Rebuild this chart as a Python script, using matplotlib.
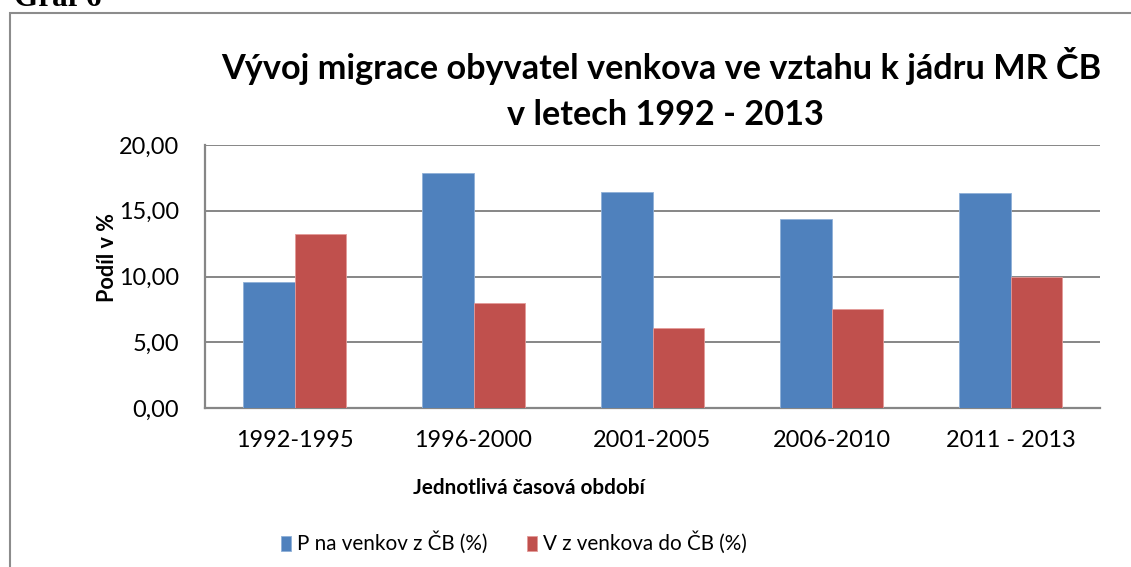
import matplotlib
matplotlib.use("Agg")
import matplotlib.pyplot as plt
from matplotlib.textpath import TextPath
from matplotlib.font_manager import FontProperties
from matplotlib.patches import Rectangle
import numpy as np

W, H, DPI = 1131, 567, 100

categories = ["1992-1995", "1996-2000", "2001-2005", "2006-2010", "2011 - 2013"]
series_names = ["P na venkov z ČB (%)", "V z venkova do ČB (%)"]
values_p = [9.55, 17.87, 16.43, 14.40, 16.35]
values_v = [13.25, 7.98, 6.08, 7.55, 9.94]
yticks = [0, 5, 10, 15, 20]
ytick_labels = ["0,00", "5,00", "10,00", "15,00", "20,00"]
title_line1 = "Vývoj migrace obyvatel venkova ve vztahu k jádru MR ČB"
title_line2 = "v letech 1992 - 2013"
xlabel = "Jednotlivá časová období"
ylabel = "Podíl v %"
heading = "Graf 6"

SANS = "Lato"
SERIF = "Liberation Serif"


def text_px(text, size_pt, family=SANS, weight="normal"):
    fp = FontProperties(family=family, weight=weight)
    w = TextPath((0, 0), text, size=100, prop=fp).get_extents().width
    return w * size_pt / 100 * DPI / 72


def fit_size(text, target_px, family=SANS, weight="normal"):
    """Font size in points so that text renders target_px wide."""
    return 100 * target_px / text_px(text, 100, family, weight)


def fx(x):
    return x / W


def fy(y):
    return 1 - y / H


fig = plt.figure(figsize=(W / DPI, H / DPI), dpi=DPI)
fig.patch.set_facecolor("white")

# chart border (outer frame)
fig.add_artist(Rectangle((fx(10), fy(700)), fx(1200), (700 - 13) / H,
                         transform=fig.transFigure, fill=False,
                         edgecolor="#8c8c8c", linewidth=1.5))

# heading above the frame (partly cut off, as in the source)
fig.text(fx(14), fy(6), heading, family=SERIF, weight="bold",
         fontsize=fit_size(heading, 85, SERIF, "bold"), ha="left", va="baseline")

ax = fig.add_axes([fx(205), fy(408), fx(1100) - fx(205), (408 - 145) / H])

blue = "#4F81BD"
red = "#C0504D"
x = np.arange(len(categories))
bw = 0.286
ax.bar(x - bw / 2, values_p, bw, color=blue, edgecolor="#8fb0d8", linewidth=0.6,
       label=series_names[0], zorder=3)
ax.bar(x + bw / 2, values_v, bw, color=red, edgecolor="#e39a98", linewidth=0.6,
       label=series_names[1], zorder=3)

ax.set_xlim(-0.5, len(categories) - 0.5)
ax.set_ylim(0, 20)
ax.set_yticks(yticks)
tick_fs = fit_size("1992-1995", 114)
ax.set_yticklabels(ytick_labels, family=SANS, fontsize=tick_fs)
ax.set_xticks(x)
ax.set_xticklabels(categories, family=SANS, fontsize=tick_fs)
ax.tick_params(axis="both", length=0, colors="black")
ax.tick_params(axis="y", pad=26 * 72 / DPI)
ax.tick_params(axis="x", pad=22 * 72 / DPI)

grid_c = "#868686"
ax.yaxis.grid(True, color=grid_c, linewidth=1.4, zorder=0)
ax.set_axisbelow(True)
for s in ["top", "right"]:
    ax.spines[s].set_visible(False)
for s in ["left", "bottom"]:
    ax.spines[s].set_color(grid_c)
    ax.spines[s].set_linewidth(1.6)

# titles
tfs = fit_size(title_line1, 878, SANS, "bold")
fig.text(fx(661), fy(79), title_line1, family=SANS, weight="bold", fontsize=tfs,
         ha="center", va="baseline")
fig.text(fx(665), fy(125), title_line2, family=SANS, weight="bold", fontsize=tfs,
         ha="center", va="baseline")

# axis labels
xl_fs = tick_fs * 0.88
fig.text(fx(529), fy(494), xlabel, family=SANS, weight="bold", fontsize=xl_fs,
         ha="center", va="baseline")
yl_fs = fit_size(ylabel, 86, SANS, "bold")
fig.text(fx(107), fy(258), ylabel, family=SANS, weight="bold", fontsize=yl_fs,
         ha="center", va="center", rotation=90)

# legend
leg_fs = tick_fs * 0.88
f_px = leg_fs * DPI / 72
w1 = text_px(series_names[0], leg_fs)
gap = max(524 - (297 + w1), 18)
leg = fig.legend(loc="center left", bbox_to_anchor=(fx(281), fy(543)), ncol=2,
                 frameon=False, prop=FontProperties(family=SANS, size=leg_fs),
                 handlelength=10 / f_px, handleheight=15 / f_px,
                 handletextpad=6 / f_px, columnspacing=gap / f_px,
                 borderpad=0, borderaxespad=0)

fig.savefig("out.png", dpi=DPI)
